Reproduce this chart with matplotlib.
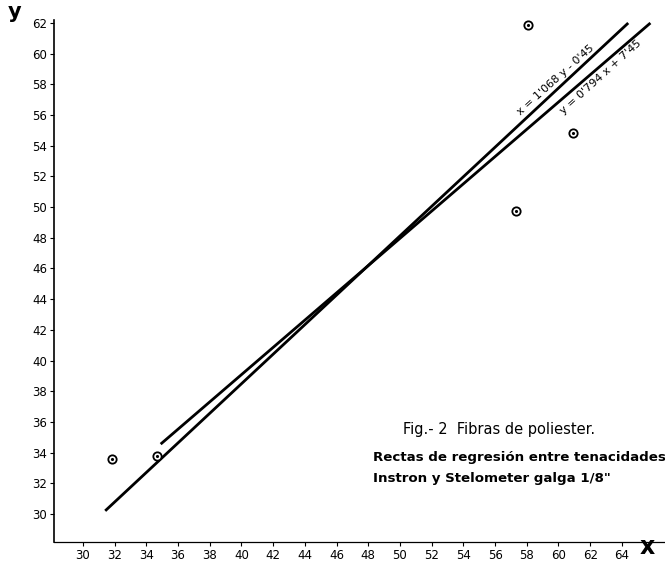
import numpy as np
import matplotlib
matplotlib.use('Agg')
import matplotlib.pyplot as plt

# values
x_pts = [31.8, 34.7, 57.3, 58.1, 60.9]
y_pts = [33.6, 33.8, 49.75, 61.9, 54.8]

# y = 0'794 x + 7'45  (drawn end points)
line_yx_x = [34.9, 65.8]
line_yx_y = [34.55, 62.0]
# x = 1'068 y - 0'45
line_xy_x = [31.4, 64.4]
line_xy_y = [30.2, 62.0]

x_ticks = list(range(30, 66, 2))
y_ticks = list(range(30, 64, 2))

plt.rcParams['font.family'] = ['DejaVu Sans']

fig = plt.figure(figsize=(6.65, 5.61), dpi=100)
ax = fig.add_axes([0.0812, 0.0339, 0.9188, 0.9661])
ax.set_xlim(28.17, 66.72)
ax.set_ylim(28.17, 63.5)

ax.plot(line_yx_x, line_yx_y, color='black', lw=2.0, solid_capstyle='butt')
ax.plot(line_xy_x, line_xy_y, color='black', lw=2.0, solid_capstyle='butt')

ax.plot(x_pts, y_pts, 'o', ms=6, mfc='white', mec='black', mew=1.3)
ax.plot(x_pts, y_pts, '.', ms=2.5, color='black')

ax.spines['top'].set_visible(False)
ax.spines['right'].set_visible(False)
ax.spines['left'].set_bounds(28.17, 62.2)
ax.spines['left'].set_linewidth(1.2)
ax.spines['bottom'].set_linewidth(0.9)

ax.set_xticks(x_ticks)
ax.set_yticks(y_ticks)
ax.tick_params(axis='both', labelsize=8.5, length=3, width=0.8, direction='out', pad=2)

fig.text(0.012, 0.968, 'y', fontsize=15, fontweight='bold')
fig.text(0.962, 0.012, 'x', fontsize=17, fontweight='bold')

ax.text(59.8, 58.3, "x = 1'068 y - 0'45", rotation=42, rotation_mode='anchor',
        ha='center', va='center', fontsize=8)
ax.text(62.7, 58.5, "y = 0'794 x + 7'45", rotation=42, rotation_mode='anchor',
        ha='center', va='center', fontsize=8)

ax.text(50.2, 35.5, 'Fig.- 2  Fibras de poliester.', fontsize=10.5, va='center')
ax.text(48.3, 33.65, 'Rectas de regresión entre tenacidades', fontsize=9.6,
        fontweight='bold', va='center', clip_on=False)
ax.text(48.3, 32.3, 'Instron y Stelometer galga 1/8"', fontsize=9.6,
        fontweight='bold', va='center')

fig.savefig('out.png', dpi=100)
